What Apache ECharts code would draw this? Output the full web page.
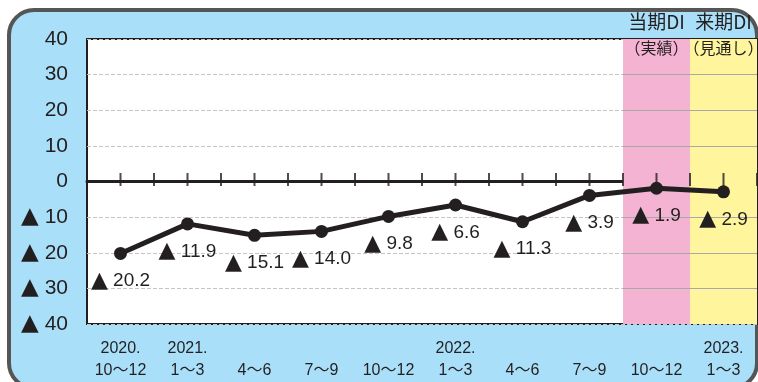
<!DOCTYPE html>
<html>
<head>
<meta charset="utf-8">
<script src="https://cdn.jsdelivr.net/npm/echarts@6/dist/echarts.min.js"></script>
<style>
  html, body { margin: 0; padding: 0; background: #fff; }
  #chart { width: 758px; height: 382px; }
</style>
</head>
<body>
<div id="chart"></div>
<script>
// Quarterly DI (▲ = negative)
const yearLabels = ['2020.', '2021.', '', '', '', '2022.', '', '', '', '2023.'];
const quarterLabels = ['10～12', '1～3', '4～6', '7～9', '10～12', '1～3', '4～6', '7～9', '10～12', '1～3'];
const diValues = [-20.2, -11.9, -15.1, -14.0, -9.8, -6.6, -11.3, -3.9, -1.9, -2.9];
const yTicks = [-40, -30, -20, -10, 0, 10, 20, 30, 40];
const headerTitles = ['当期DI', '来期DI'];
const headerNotes = ['（実績）', '（見通し）'];
const bandIndex = [8, 9];

const ink = '#231f20';
const categories = quarterLabels.map((q, i) => yearLabels[i] + '\n' + q);
const gridLines = yTicks.filter(v => v !== 0 && Math.abs(v) !== 40);

// tick marks on the zero line: every category and every boundary between them
const zeroTicks = [];
for (let i = 0; i <= categories.length * 2; i++) zeroTicks.push([i / 2 - 0.5, 0]);

const chart = echarts.init(document.getElementById('chart'), null, { renderer: 'canvas' });

const option = {
  backgroundColor: '#fff',
  animation: false,
  textStyle: { fontFamily: '"Liberation Sans", "Noto Sans CJK JP", sans-serif' },
  graphic: [{
    type: 'rect', z: -10, silent: true,
    shape: { x: 9, y: 10, width: 748, height: 378, r: 25 },
    style: { fill: '#a9dff8', stroke: '#555', lineWidth: 4 }
  }],
  grid: {
    left: 87, top: 39, width: 670, height: 286,
    show: true, backgroundColor: '#fff', borderColor: ink, borderWidth: 2
  },
  xAxis: [{
    type: 'category', data: categories, position: 'bottom',
    boundaryGap: true,
    axisLine: { show: false, onZero: false },
    axisTick: { show: false },
    axisLabel: {
      color: ink, fontSize: 16, lineHeight: 22, margin: 14, interval: 0,
      fontFamily: '"Liberation Sans", "Noto Sans CJK JP", sans-serif'
    }
  }, {
    // zero line
    type: 'value', position: 'bottom', min: -0.5, max: categories.length - 0.5,
    axisLine: { show: true, onZero: true, lineStyle: { color: ink, width: 3 } },
    axisTick: { show: false },
    axisLabel: { show: false }, splitLine: { show: false }
  }],
  yAxis: {
    type: 'value', min: -40, max: 40, interval: 10,
    axisLine: { show: false }, axisTick: { show: false },
    axisLabel: {
      color: ink, fontSize: 21, margin: 19,
      formatter: v => v < 0 ? '{t|▲} ' + (-v) : String(v),
      rich: { t: { fontFamily: '"DejaVu Sans"', fontSize: 23, color: ink } }
    },
    splitLine: { show: true, lineStyle: { color: '#c4c4c4', type: 'dashed', width: 1 } }
  },
  series: [{
    // shaded periods: actual / outlook
    type: 'line', xAxisIndex: 1, data: [], silent: true,
    markArea: {
      silent: true,
      data: [
        [{ xAxis: bandIndex[0] - 0.5, yAxis: 40, itemStyle: { color: '#f4b3d3' } }, { xAxis: bandIndex[0] + 0.5, yAxis: -40 }],
        [{ xAxis: bandIndex[1] - 0.5, yAxis: 40, itemStyle: { color: '#fef59d' } }, { xAxis: bandIndex[1] + 0.5, yAxis: -40 }]
      ]
    },
    markLine: {
      silent: true, symbol: 'none', label: { show: false },
      lineStyle: { color: '#a8a8a8', type: 'solid', width: 1 },
      data: gridLines.map(v => [{ coord: [bandIndex[0] - 0.5, v] }, { coord: [bandIndex[1] + 0.5, v] }])
    }
  }, {
    // tick marks crossing the zero line
    type: 'scatter', xAxisIndex: 1, data: zeroTicks, silent: true, z: 4,
    symbol: 'rect', symbolSize: [2, 13], symbolOffset: [0, -2],
    itemStyle: { color: ink }
  }, {
    type: 'line', xAxisIndex: 0, data: diValues, z: 5,
    symbol: 'circle', symbolSize: 13,
    itemStyle: { color: ink },
    lineStyle: { color: ink, width: 5 },
    label: {
      show: true, position: 'bottom', distance: 10,
      color: ink, fontSize: 19,
      formatter: p => (p.value < 0 ? '{t|▲} ' : '') + Math.abs(p.value).toFixed(1),
      rich: { t: { fontFamily: '"DejaVu Sans"', fontSize: 22, color: ink } }
    }
  }]
};

chart.setOption(option);

// Column headers above the shaded periods
const headerGraphics = [];
bandIndex.forEach((idx, k) => {
  const x = chart.convertToPixel({ xAxisIndex: 1 }, idx);
  headerGraphics.push({
    type: 'text', x: x, y: 22, z: 20, silent: true,
    style: { text: headerTitles[k], fill: ink, font: '19px "Noto Sans CJK JP", sans-serif', textAlign: 'center', textVerticalAlign: 'middle' }
  });
  headerGraphics.push({
    type: 'text', x: x, y: 48, z: 20, silent: true,
    style: { text: headerNotes[k], fill: ink, font: '16px "Noto Sans CJK JP", sans-serif', textAlign: 'center', textVerticalAlign: 'middle' }
  });
});
chart.setOption({ graphic: option.graphic.concat(headerGraphics) });
</script>
</body>
</html>
